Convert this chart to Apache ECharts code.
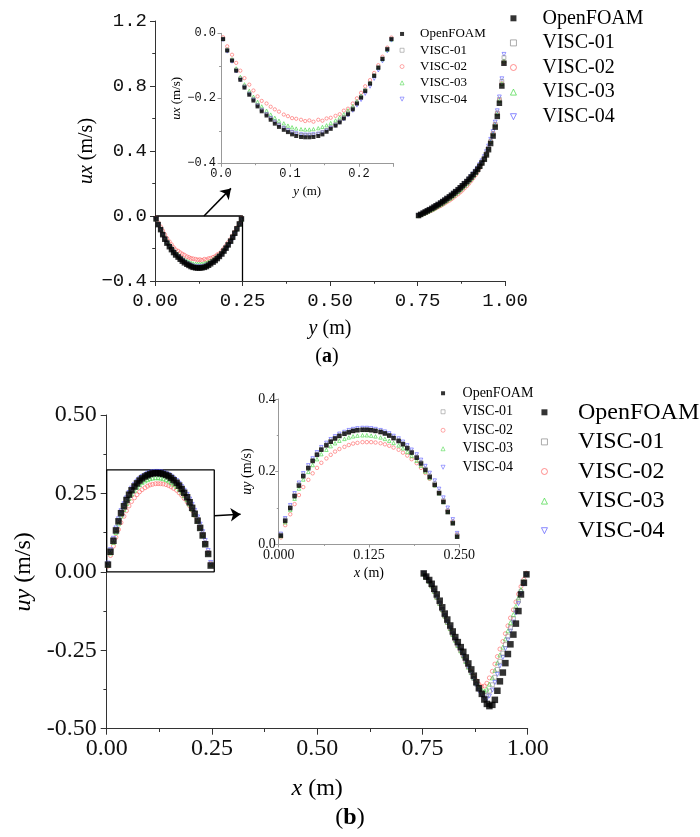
<!DOCTYPE html>
<html><head><meta charset="utf-8">
<script src="https://cdn.jsdelivr.net/npm/echarts@6/dist/echarts.min.js"></script>
<style>html,body{margin:0;padding:0;background:#fff}#c{width:700px;height:837px}</style>
</head><body><div id="c"></div>
<script>
// ---------- DATA ----------
const names = ['OpenFOAM','VISC-01','VISC-02','VISC-03','VISC-04'];
const xLeft = [0.003,0.009,0.016,0.022,0.028,0.034,0.041,0.047,0.053,0.059,0.066,0.072,0.078,0.084,0.091,0.097,0.103,0.109,0.116,0.122,0.128,0.134,0.141,0.147,0.153,0.159,0.166,0.172,0.178,0.184,0.191,0.197,0.203,0.209,0.216,0.222,0.228,0.234,0.241,0.247];
const xRight = [0.753,0.759,0.766,0.772,0.778,0.784,0.791,0.797,0.803,0.809,0.816,0.822,0.828,0.834,0.841,0.847,0.853,0.859,0.866,0.872,0.878,0.884,0.891,0.897,0.903,0.909,0.916,0.922,0.928,0.934,0.941,0.947,0.953,0.959,0.966,0.972,0.978,0.984,0.991,0.997];

// (a) ux along y, left part
const uxL_OpenFOAM = [-0.018,-0.053,-0.084,-0.115,-0.143,-0.167,-0.189,-0.207,-0.225,-0.240,-0.253,-0.266,-0.278,-0.288,-0.297,-0.304,-0.311,-0.316,-0.319,-0.320,-0.320,-0.319,-0.316,-0.311,-0.303,-0.294,-0.284,-0.274,-0.262,-0.249,-0.234,-0.216,-0.198,-0.178,-0.155,-0.131,-0.106,-0.079,-0.049,-0.018];
const uxL_VISC01 = [-0.017,-0.051,-0.082,-0.112,-0.139,-0.163,-0.185,-0.203,-0.221,-0.236,-0.249,-0.262,-0.273,-0.283,-0.292,-0.299,-0.305,-0.310,-0.313,-0.314,-0.314,-0.313,-0.310,-0.305,-0.298,-0.289,-0.280,-0.270,-0.258,-0.245,-0.230,-0.213,-0.195,-0.175,-0.153,-0.129,-0.104,-0.077,-0.048,-0.017];
const uxL_VISC02 = [-0.012,-0.040,-0.066,-0.091,-0.115,-0.138,-0.158,-0.176,-0.194,-0.208,-0.216,-0.226,-0.234,-0.241,-0.250,-0.255,-0.261,-0.263,-0.266,-0.270,-0.268,-0.272,-0.266,-0.269,-0.262,-0.260,-0.254,-0.249,-0.238,-0.232,-0.216,-0.200,-0.183,-0.163,-0.144,-0.122,-0.098,-0.072,-0.044,-0.013];
const uxL_VISC03 = [-0.017,-0.050,-0.080,-0.108,-0.134,-0.157,-0.177,-0.195,-0.211,-0.225,-0.238,-0.250,-0.260,-0.269,-0.277,-0.284,-0.289,-0.293,-0.295,-0.296,-0.296,-0.295,-0.292,-0.288,-0.283,-0.276,-0.268,-0.259,-0.249,-0.237,-0.224,-0.209,-0.192,-0.174,-0.153,-0.130,-0.106,-0.080,-0.051,-0.019];
const uxL_VISC04 = [-0.020,-0.056,-0.087,-0.117,-0.144,-0.167,-0.188,-0.205,-0.222,-0.236,-0.249,-0.261,-0.272,-0.282,-0.291,-0.298,-0.304,-0.308,-0.311,-0.312,-0.312,-0.311,-0.309,-0.305,-0.299,-0.292,-0.284,-0.275,-0.264,-0.252,-0.238,-0.222,-0.205,-0.186,-0.164,-0.140,-0.114,-0.086,-0.055,-0.022];
// (a) ux along y, right part
const uxR_OpenFOAM = [0.003,0.010,0.018,0.025,0.032,0.039,0.047,0.055,0.063,0.071,0.080,0.089,0.098,0.108,0.118,0.128,0.139,0.150,0.162,0.174,0.186,0.199,0.212,0.226,0.240,0.255,0.271,0.288,0.306,0.326,0.349,0.376,0.408,0.446,0.492,0.547,0.613,0.694,0.800,0.940];
const uxR_VISC01 = [0.002,0.009,0.016,0.022,0.029,0.036,0.044,0.051,0.059,0.067,0.075,0.084,0.093,0.102,0.112,0.122,0.133,0.144,0.156,0.168,0.181,0.194,0.208,0.222,0.237,0.253,0.270,0.289,0.309,0.331,0.356,0.385,0.419,0.459,0.507,0.564,0.634,0.718,0.828,0.975];
const uxR_VISC02 = [0.001,0.006,0.012,0.017,0.023,0.029,0.035,0.042,0.049,0.056,0.063,0.071,0.079,0.087,0.096,0.105,0.115,0.125,0.136,0.147,0.159,0.172,0.186,0.201,0.217,0.234,0.253,0.274,0.297,0.322,0.350,0.382,0.418,0.460,0.508,0.565,0.633,0.714,0.815,0.945];
const uxR_VISC03 = [0.002,0.008,0.014,0.020,0.026,0.033,0.040,0.047,0.055,0.063,0.071,0.079,0.088,0.097,0.107,0.117,0.127,0.138,0.150,0.162,0.174,0.187,0.201,0.216,0.231,0.247,0.265,0.284,0.305,0.328,0.354,0.383,0.417,0.457,0.504,0.560,0.628,0.710,0.815,0.955];
const uxR_VISC04 = [0.003,0.010,0.017,0.024,0.031,0.038,0.046,0.054,0.062,0.070,0.079,0.088,0.097,0.107,0.117,0.127,0.138,0.149,0.161,0.173,0.186,0.199,0.213,0.228,0.243,0.259,0.277,0.296,0.317,0.340,0.366,0.396,0.431,0.472,0.520,0.578,0.648,0.733,0.845,0.995];

// (b) uy along x, left part
const uyL_OpenFOAM = [0.023,0.064,0.099,0.132,0.161,0.187,0.209,0.229,0.246,0.260,0.272,0.282,0.291,0.298,0.304,0.308,0.312,0.314,0.315,0.315,0.314,0.312,0.309,0.305,0.299,0.292,0.284,0.275,0.264,0.252,0.238,0.222,0.204,0.185,0.163,0.140,0.116,0.088,0.057,0.020];
const uyL_VISC01 = [0.025,0.067,0.102,0.135,0.164,0.190,0.212,0.231,0.248,0.262,0.274,0.284,0.292,0.299,0.305,0.309,0.312,0.314,0.315,0.315,0.314,0.312,0.309,0.305,0.300,0.293,0.286,0.277,0.266,0.254,0.240,0.225,0.207,0.188,0.167,0.144,0.120,0.092,0.061,0.025];
const uyL_VISC02 = [0.018,0.052,0.082,0.110,0.135,0.157,0.177,0.195,0.210,0.224,0.236,0.246,0.255,0.262,0.268,0.273,0.277,0.279,0.281,0.281,0.281,0.280,0.278,0.275,0.271,0.266,0.260,0.252,0.244,0.234,0.223,0.210,0.196,0.180,0.162,0.141,0.118,0.092,0.062,0.026];
const uyL_VISC03 = [0.022,0.060,0.094,0.125,0.153,0.178,0.199,0.218,0.234,0.248,0.260,0.270,0.278,0.285,0.290,0.294,0.297,0.299,0.300,0.300,0.299,0.297,0.294,0.290,0.285,0.279,0.272,0.264,0.254,0.243,0.230,0.216,0.200,0.182,0.162,0.140,0.116,0.089,0.059,0.022];
const uyL_VISC04 = [0.028,0.071,0.107,0.140,0.169,0.195,0.217,0.236,0.253,0.267,0.279,0.289,0.297,0.304,0.309,0.314,0.317,0.319,0.320,0.320,0.319,0.317,0.314,0.310,0.305,0.298,0.291,0.282,0.272,0.260,0.247,0.232,0.215,0.196,0.175,0.152,0.128,0.100,0.068,0.030];
// (b) uy along x, right part
const uyR_OpenFOAM = [-0.005,-0.015,-0.026,-0.038,-0.054,-0.072,-0.092,-0.113,-0.133,-0.152,-0.171,-0.190,-0.208,-0.224,-0.240,-0.255,-0.273,-0.292,-0.311,-0.331,-0.352,-0.371,-0.389,-0.407,-0.421,-0.428,-0.424,-0.408,-0.379,-0.349,-0.321,-0.291,-0.262,-0.231,-0.200,-0.165,-0.125,-0.072,-0.035,-0.008];
const uyR_VISC01 = [-0.005,-0.017,-0.030,-0.044,-0.061,-0.080,-0.100,-0.120,-0.140,-0.160,-0.179,-0.198,-0.216,-0.233,-0.250,-0.266,-0.284,-0.302,-0.321,-0.340,-0.358,-0.374,-0.386,-0.394,-0.393,-0.380,-0.360,-0.336,-0.311,-0.285,-0.259,-0.232,-0.205,-0.178,-0.150,-0.122,-0.093,-0.063,-0.034,-0.008];
const uyR_VISC02 = [-0.006,-0.018,-0.031,-0.046,-0.063,-0.082,-0.102,-0.122,-0.142,-0.162,-0.182,-0.200,-0.218,-0.235,-0.252,-0.268,-0.285,-0.302,-0.318,-0.333,-0.347,-0.358,-0.365,-0.364,-0.355,-0.338,-0.317,-0.294,-0.270,-0.246,-0.222,-0.197,-0.172,-0.147,-0.121,-0.096,-0.071,-0.047,-0.024,-0.004];
const uyR_VISC03 = [-0.006,-0.018,-0.031,-0.045,-0.062,-0.081,-0.101,-0.121,-0.141,-0.161,-0.181,-0.200,-0.218,-0.235,-0.252,-0.268,-0.286,-0.304,-0.321,-0.338,-0.354,-0.367,-0.377,-0.380,-0.374,-0.358,-0.338,-0.314,-0.290,-0.265,-0.240,-0.214,-0.188,-0.162,-0.136,-0.110,-0.083,-0.056,-0.030,-0.006];
const uyR_VISC04 = [-0.005,-0.017,-0.030,-0.044,-0.061,-0.080,-0.100,-0.120,-0.140,-0.160,-0.179,-0.198,-0.216,-0.233,-0.250,-0.266,-0.284,-0.303,-0.322,-0.342,-0.361,-0.379,-0.393,-0.402,-0.405,-0.396,-0.377,-0.353,-0.327,-0.300,-0.273,-0.245,-0.217,-0.189,-0.160,-0.131,-0.101,-0.070,-0.039,-0.010];

// zoom boxes and arrows (data coordinates)
const boxA = [[0,0],[0.25,0],[0.25,-0.4]];
const arrowA = [[0.14,0],[0.217,0.17]];
const boxB = [[0,0],[0.2555,0],[0.2555,0.325],[0,0.325]];
const arrowB = [[0.2555,0.179],[0.318,0.184]];

// ---------- STYLE ----------
const SERIF = 'Liberation Serif';
const MONO = 'Liberation Mono';
const STY = {
  'OpenFOAM': {symbol:'rect', rot:0, stroke:'#000'},
  'VISC-01': {symbol:'rect', rot:0, stroke:'#8c8c8c'},
  'VISC-02': {symbol:'circle', rot:0, stroke:'#ff6464'},
  'VISC-03': {symbol:'triangle', rot:0, stroke:'#44d844'},
  'VISC-04': {symbol:'triangle', rot:180, stroke:'#5c5cff'}
};
const drawOrder = ['VISC-02','VISC-03','VISC-04','VISC-01','OpenFOAM'];

function sc(name, ai, xs, ys, big, small) {
  const s = STY[name];
  const f = name === 'OpenFOAM';
  return {
    type:'scatter', name, xAxisIndex:ai, yAxisIndex:ai,
    data: xs.map((x,i)=>[x, ys[i]]),
    symbol:s.symbol, symbolRotate:s.rot, symbolSize: f ? big : small,
    itemStyle: f ? {color:'#000'} : {color:'rgba(255,255,255,0)', borderColor:s.stroke, borderWidth:0.8},
    z: f ? 5 : 3, silent:true
  };
}
const setsA = {
  'OpenFOAM':[uxL_OpenFOAM, uxR_OpenFOAM], 'VISC-01':[uxL_VISC01, uxR_VISC01],
  'VISC-02':[uxL_VISC02, uxR_VISC02], 'VISC-03':[uxL_VISC03, uxR_VISC03], 'VISC-04':[uxL_VISC04, uxR_VISC04]
};
const setsB = {
  'OpenFOAM':[uyL_OpenFOAM, uyR_OpenFOAM], 'VISC-01':[uyL_VISC01, uyR_VISC01],
  'VISC-02':[uyL_VISC02, uyR_VISC02], 'VISC-03':[uyL_VISC03, uyR_VISC03], 'VISC-04':[uyL_VISC04, uyR_VISC04]
};

const series = [];
drawOrder.forEach(n => {
  series.push(sc(n, 0, xLeft, setsA[n][0], 5.5, 3.8));
  series.push(sc(n, 0, xRight, setsA[n][1], 5.5, 3.8));
  series.push(sc(n, 1, xLeft, setsA[n][0], 4, 3.3));
  series.push(sc(n, 2, xLeft, setsB[n][0], 6.5, 4));
  series.push(sc(n, 2, xRight, setsB[n][1], 6.5, 4));
  series.push(sc(n, 3, xLeft, setsB[n][0], 4.5, 3.5));
});
function boxSeries(ai, box, arrow) {
  return {
    type:'line', xAxisIndex:ai, yAxisIndex:ai, data: box, symbol:'none', showSymbol:false,
    lineStyle:{color:'#000', width:1.3}, itemStyle:{color:'#000'}, silent:true, z:2,
    markLine:{silent:true, symbol:['none','arrow'], symbolSize:10, label:{show:false},
      itemStyle:{color:'#000'},
      lineStyle:{color:'#000', width:1.5, type:'solid'},
      emphasis:{disabled:true},
      data:[[{coord:arrow[0]},{coord:arrow[1]}]]}
  };
}
series.push(boxSeries(0, boxA, arrowA));
series.push(boxSeries(2, boxB.concat([boxB[0]]), arrowB));

const ital = (sz) => ({i:{fontStyle:'italic', fontFamily:SERIF, fontSize:sz, color:'#000'}, n:{fontFamily:SERIF, fontSize:sz, color:'#000'}});
function axis(o) {
  return {
    type:'value', gridIndex:o.g, min:o.min, max:o.max, interval:o.iv,
    splitLine:{show:false},
    axisLine:{show:true, onZero:false, lineStyle:{color:o.lc, width:1}},
    axisTick:{show:true, length:o.tl, lineStyle:{color:o.lc}},
    minorTick:{show:true, splitNumber:2, length:o.tl*0.55, lineStyle:{color:o.lc}},
    axisLabel:{fontFamily:o.ff, fontSize:o.fs, color:'#111', margin:o.m, formatter:o.fmt, showMaxLabel:o.smax},
    name:o.name, nameLocation:'middle', nameGap:o.ng,
    nameTextStyle:{fontFamily:SERIF, fontSize:o.nfs, color:'#000', rich:ital(o.nfs)}
  };
}
const minus = (d) => (v) => (v < 0 ? '\u2212' : '') + Math.abs(v).toFixed(d);
const downTri = 'path://M0,0L10,0L5,10Z';
const legendData = names.map(n => n === 'VISC-04' ? {name:n, icon:downTri} : {name:n});

const option = {
  animation:false,
  backgroundColor:'#fff',
  grid:[
    {left:155, top:21, width:350, height:260},
    {left:221, top:33.3, width:172.5, height:130},
    {left:106.7, top:415, width:421, height:313.7},
    {left:278.7, top:399, width:180.6, height:145}
  ],
  xAxis:[
    axis({g:0, min:0, max:1, iv:0.25, lc:'#333', tl:5, ff:MONO, fs:19, m:10, fmt:(v)=>v.toFixed(2), name:'{i|y}{n| (m)}', ng:38, nfs:20}),
    axis({g:1, min:0, max:0.25, iv:0.1, lc:'#999', tl:3.5, ff:MONO, fs:12, m:5, fmt:(v)=>v.toFixed(1), smax:false, name:'{i|y}{n| (m)}', ng:22, nfs:13}),
    axis({g:2, min:0, max:1, iv:0.25, lc:'#333', tl:6, ff:SERIF, fs:24, m:8, fmt:(v)=>v.toFixed(2), name:'{i|x}{n| (m)}', ng:48, nfs:24}),
    axis({g:3, min:0, max:0.25, iv:0.125, lc:'#999', tl:3.5, ff:SERIF, fs:14, m:4, fmt:(v)=>v.toFixed(3), name:'{i|x}{n| (m)}', ng:22, nfs:14})
  ],
  yAxis:[
    axis({g:0, min:-0.4, max:1.2, iv:0.4, lc:'#333', tl:5, ff:MONO, fs:19, m:8, fmt:minus(1), name:'{i|ux}{n| (m/s)}', ng:58, nfs:20}),
    axis({g:1, min:-0.4, max:0, iv:0.2, lc:'#999', tl:3.5, ff:MONO, fs:12, m:5, fmt:minus(1), name:'{i|ux}{n| (m/s)}', ng:35, nfs:13}),
    axis({g:2, min:-0.5, max:0.5, iv:0.25, lc:'#333', tl:6, ff:SERIF, fs:24, m:10, fmt:(v)=>v.toFixed(2), name:'{i|uy}{n| (m/s)}', ng:64, nfs:24}),
    axis({g:3, min:0, max:0.4, iv:0.2, lc:'#999', tl:3.5, ff:SERIF, fs:14, m:3, fmt:(v)=>v.toFixed(1), name:'{i|uy}{n| (m/s)}', ng:24, nfs:14})
  ],
  legend:[
    {data:legendData, orient:'vertical', left:510, top:6, itemWidth:6, itemHeight:6, itemGap:0, padding:0, selectedMode:false,
     itemStyle:{borderWidth:0.9}, textStyle:{fontFamily:SERIF, fontSize:20, color:'#000', lineHeight:24.6, padding:[0,0,0,21]}},
    {data:legendData, orient:'vertical', left:399.7, top:25.8, itemWidth:4, itemHeight:4, itemGap:0, padding:0, selectedMode:false,
     itemStyle:{borderWidth:0.7}, textStyle:{fontFamily:SERIF, fontSize:13, color:'#000', lineHeight:16.3, padding:[0,0,0,11]}},
    {data:legendData, orient:'vertical', left:541, top:397.5, itemWidth:6, itemHeight:6, itemGap:0, padding:0, selectedMode:false,
     itemStyle:{borderWidth:0.9}, textStyle:{fontFamily:SERIF, fontSize:24, color:'#000', lineHeight:29.6, padding:[0,0,0,25.5]}},
    {data:legendData, orient:'vertical', left:440.7, top:384, itemWidth:4, itemHeight:4, itemGap:0, padding:0, selectedMode:false,
     itemStyle:{borderWidth:0.7}, textStyle:{fontFamily:SERIF, fontSize:14, color:'#000', lineHeight:18.5, padding:[0,0,0,12.5]}}
  ],
  graphic:[
    {type:'text', x:327, y:357, style:{text:'{n|(}{b|a}{n|)}', align:'center', verticalAlign:'middle',
      rich:{n:{fontFamily:SERIF, fontSize:20, fill:'#000'}, b:{fontFamily:SERIF, fontSize:20, fontWeight:'bold', fill:'#000'}}}},
    {type:'text', x:350, y:818, style:{text:'{n|(}{b|b}{n|)}', align:'center', verticalAlign:'middle',
      rich:{n:{fontFamily:SERIF, fontSize:24, fill:'#000'}, b:{fontFamily:SERIF, fontSize:24, fontWeight:'bold', fill:'#000'}}}}
  ],
  series
};
const chart = echarts.init(document.getElementById('c'), null, {renderer:'canvas'});
chart.setOption(option);
</script>
</body></html>
